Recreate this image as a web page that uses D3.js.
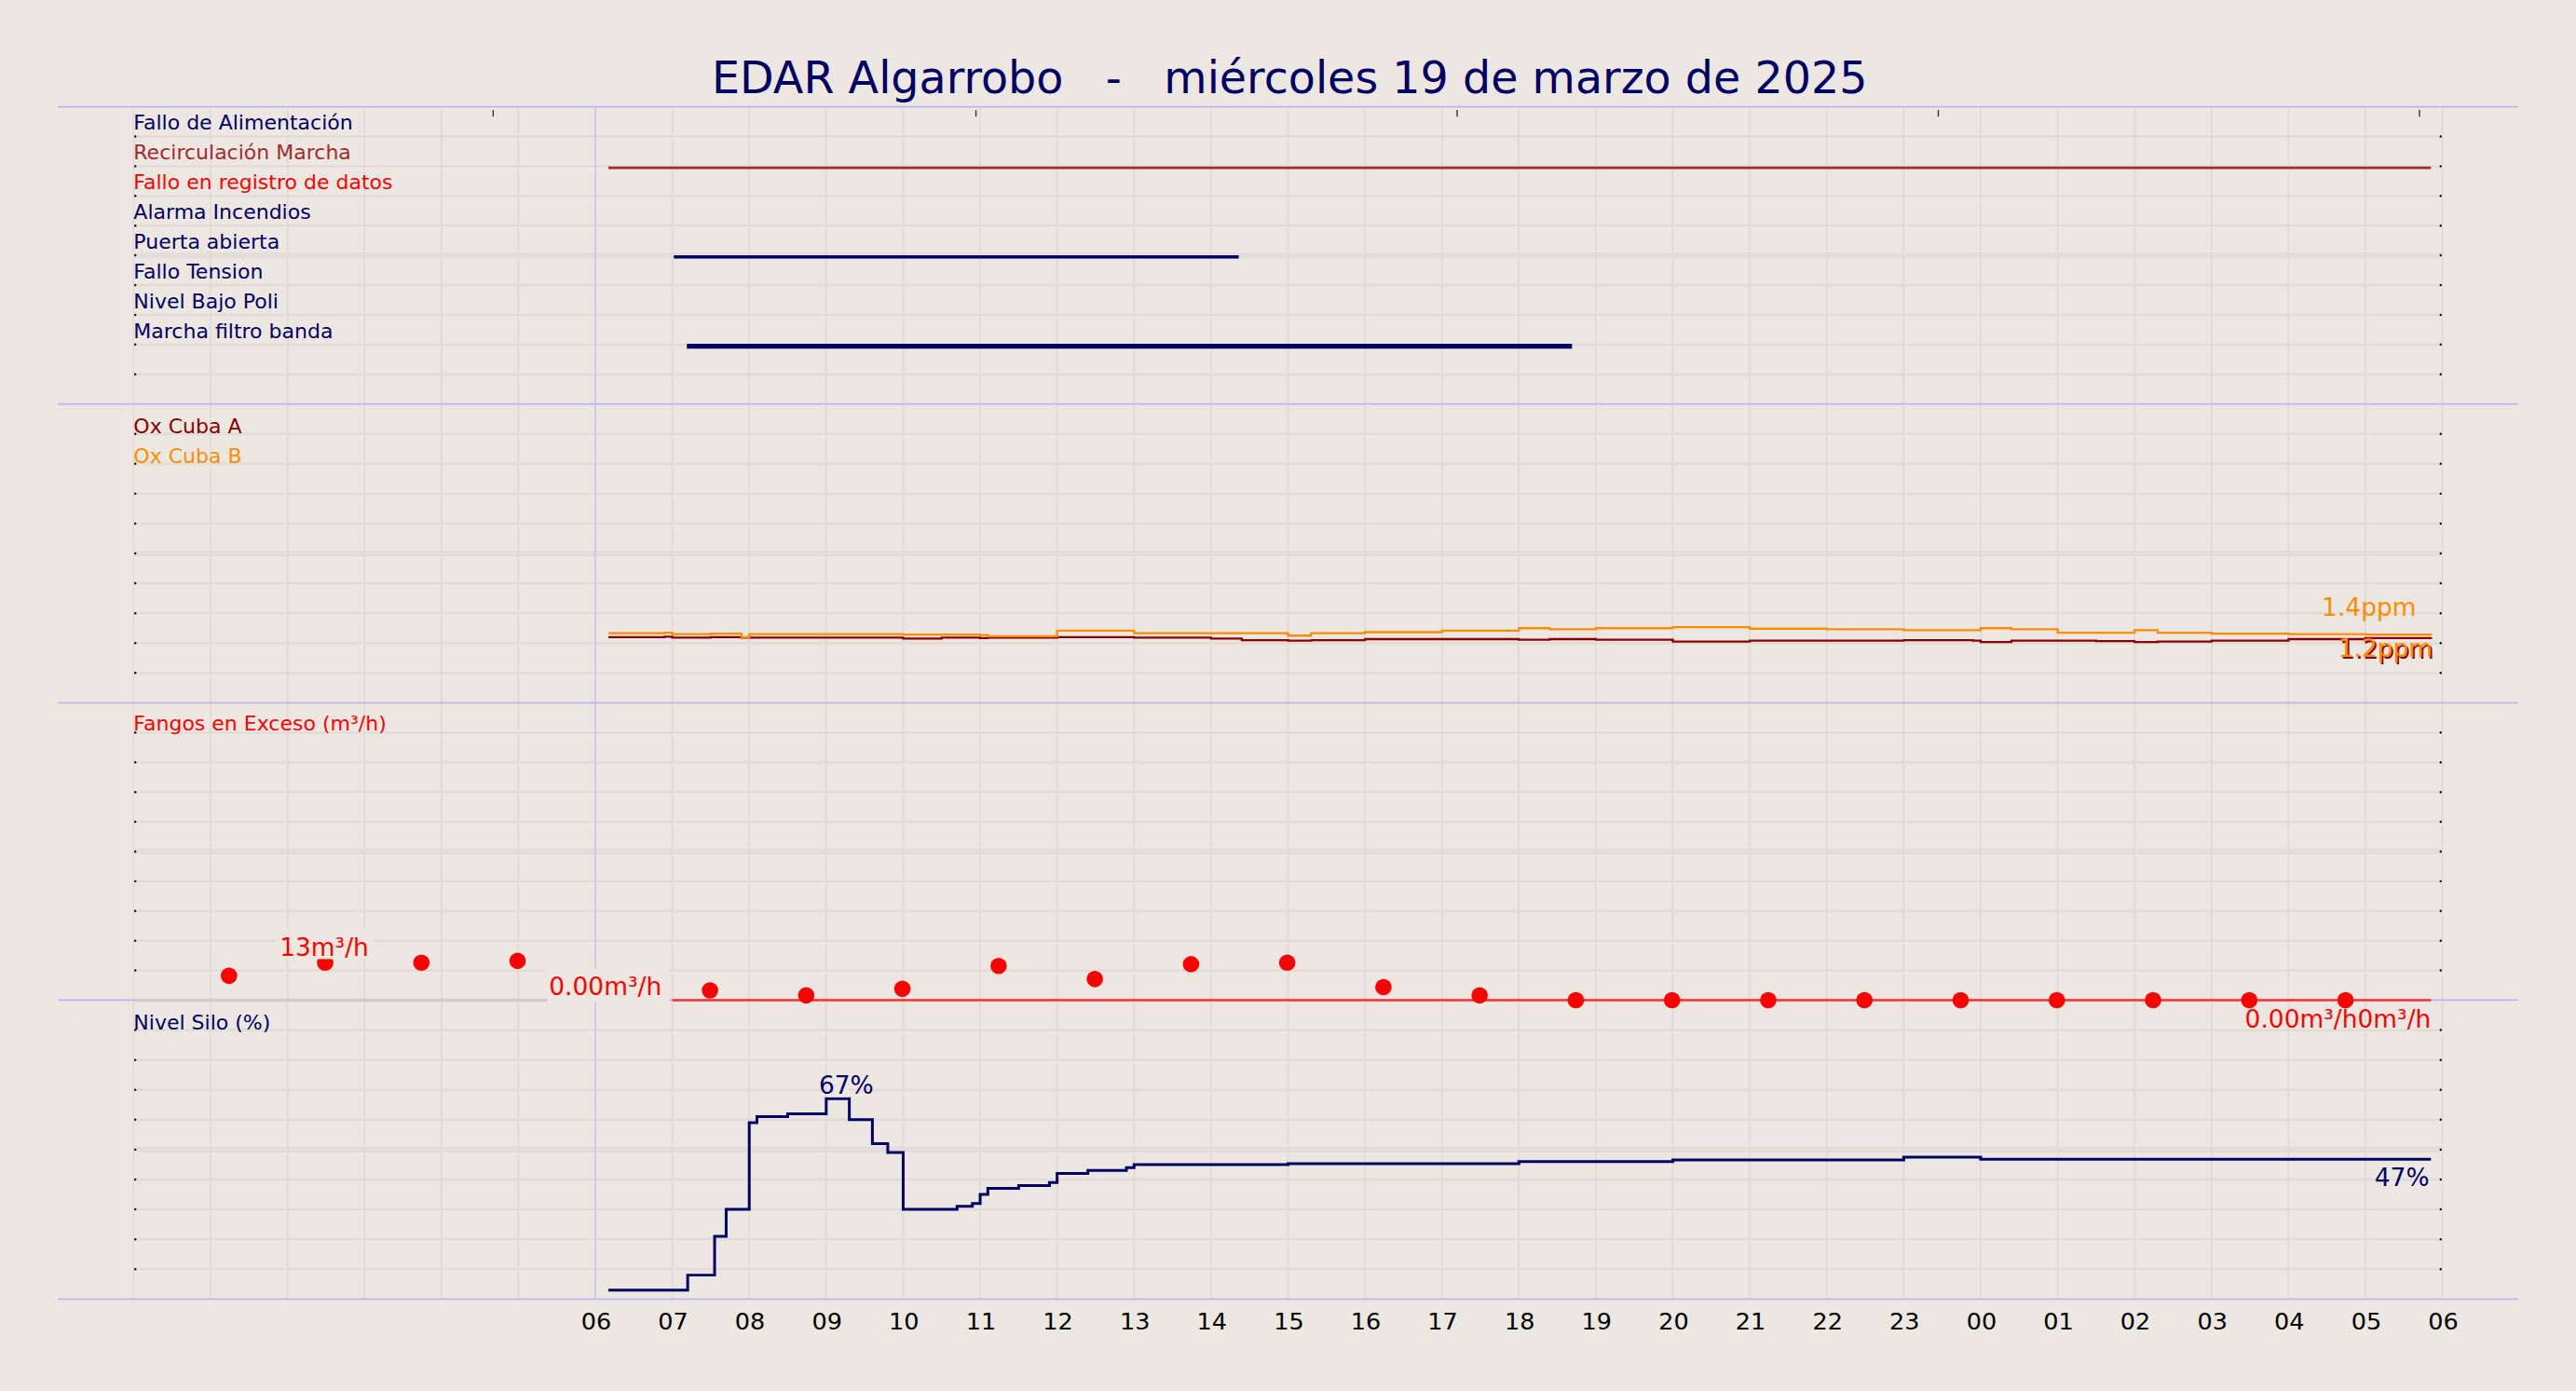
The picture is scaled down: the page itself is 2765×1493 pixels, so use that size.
<!DOCTYPE html>
<html><head><meta charset="utf-8">
<script src="https://cdn.jsdelivr.net/npm/d3@7"></script>
<style>
 body{margin:0;background:#ece7e1;}
 text{font-family:"DejaVu Sans",sans-serif;}
</style></head>
<body><svg id="c" width="2765" height="1493" viewBox="0 0 1568 847"></svg>
<script>
// hours since 19/03 00:00
var digitalNames = ["Fallo de Alimentación","Recirculación Marcha","Fallo en registro de datos","Alarma Incendios","Puerta abierta","Fallo Tension","Nivel Bajo Poli","Marcha filtro banda"];
var digitalColors = ["#000066","#a52a2a","#ff0000","#000066","#000066","#000066","#000066","#000066"];
var digitalOn = [[], [[6.17,29.85]], [], [], [[7.02,14.36]], [], [], [[7.19,18.69]]];
var digitalWidth = [2,1.5,2,2,2,2,2,3];

var oxTimes = [6.17,6.9,7.0,7.5,7.9,8.0,9.0,10.0,10.5,11.0,11.1,12.0,13.0,14.0,14.4,15.0,15.3,16.0,17.0,18.0,18.4,19.0,20.0,21.0,22.0,23.0,23.9,24.0,24.4,25.0,25.5,26.0,26.3,27.0,28.0,29.0,29.85];
var oxA = [1.32,1.33,1.31,1.32,1.31,1.31,1.31,1.29,1.31,1.30,1.31,1.32,1.31,1.29,1.26,1.25,1.26,1.28,1.28,1.27,1.28,1.27,1.23,1.25,1.25,1.26,1.25,1.22,1.25,1.25,1.24,1.22,1.23,1.25,1.28,1.30,1.32];
var oxB = [1.40,1.41,1.38,1.39,1.32,1.38,1.38,1.37,1.37,1.36,1.34,1.45,1.40,1.40,1.40,1.35,1.40,1.42,1.45,1.50,1.48,1.50,1.52,1.49,1.48,1.46,1.46,1.50,1.48,1.41,1.41,1.46,1.41,1.39,1.38,1.37,1.36];

var fangoTimes = [1.24,2.49,3.74,4.99,6.24,7.49,8.74,9.99,11.24,12.49,13.74,14.99,16.24,17.49,18.74,19.99,21.24,22.49,23.74,24.99,26.24,27.49,28.74];
var fangoVals = [8.2,12.6,12.6,13.2,8.8,3.3,1.6,3.8,11.5,7.1,12.1,12.6,4.4,1.6,0,0,0,0,0,0,0,0,0];

var siloTimes = [6.17,7.2,7.55,7.7,8.0,8.1,8.5,9.0,9.3,9.6,9.8,10.0,10.7,10.9,11.0,11.1,11.5,11.9,12.0,12.4,12.9,13.0,15.0,18.0,20.0,23.0,24.0,29.85];
var siloVals = [3,8,21,30,59,61,62,67,60,52,49,30,31,32,35,37,38,39,42,43,44,45,45.3,46,46.5,47.5,46.8,46.8];

var hourTicks = d3.range(6,31);

var svg = d3.select("#c");
var x = d3.scaleLinear().domain([0,30]).range([81,1487]);
var panels = [65,246,428,609,791];

svg.append("text").attr("x",785).attr("y",57).attr("text-anchor","middle")
  .attr("font-size",27).attr("fill","#000066").attr("xml:space","preserve")
  .text("EDAR Algarrobo   -   miércoles 19 de marzo de 2025");

// grids
var g = svg.append("g");
for (var p = 0; p < 4; p++) {
  var pTop = panels[p], pBot = panels[p+1];
  var yp = d3.scaleLinear().domain([0,10]).range([pBot,pTop]);
  d3.range(1,10).forEach(function (k) {
    g.append("line").attr("x1",81).attr("x2",1487).attr("y1",yp(k)).attr("y2",yp(k))
      .attr("stroke","#e2dcda").attr("stroke-width",k==5?3.5:1.6);
    g.append("circle").attr("cx",1486).attr("cy",yp(k)).attr("r",0.7).attr("fill","#000");
    g.append("circle").attr("cx",82).attr("cy",yp(k)).attr("r",0.7).attr("fill","#000");
  });
}
d3.range(0,31).forEach(function (h) {
  g.append("line").attr("x1",x(h)).attr("x2",x(h)).attr("y1",66).attr("y2",791)
    .attr("stroke","#e0dbd8").attr("stroke-width",1);
});
g.append("line").attr("x1",x(6)).attr("x2",x(6)).attr("y1",65).attr("y2",791).attr("stroke","#c4c4f4").attr("stroke-width",0.8);
panels.forEach(function (py) {
  g.append("line").attr("x1",35).attr("x2",1533).attr("y1",py).attr("y2",py).attr("stroke","#b8b8f8").attr("stroke-width",1);
});
[300,594,887,1180,1473].forEach(function (tx) {
  g.append("line").attr("x1",tx).attr("x2",tx).attr("y1",67).attr("y2",71).attr("stroke","#333").attr("stroke-width",0.8);
});

// x axis
var xa = svg.append("g").attr("transform","translate(0,791)")
  .call(d3.axisBottom(x).tickValues(hourTicks).tickSize(0).tickPadding(8)
    .tickFormat(function (h) { return d3.format("02")(h % 24); }));
xa.select(".domain").remove();
xa.selectAll("text").attr("font-size",14.5).attr("fill","#000").attr("font-family","DejaVu Sans");

// panel 1: digital
var y1 = d3.scaleLinear().domain([0,10]).range([65,246]);
digitalNames.forEach(function (n, i) {
  svg.append("text").attr("x",81).attr("y",y1(i+1)-4).attr("font-size",12.5).attr("fill",digitalColors[i]).text(n);
  digitalOn[i].forEach(function (seg) {
    svg.append("line").attr("x1",x(seg[0])).attr("x2",x(seg[1])).attr("y1",y1(i+1)+1).attr("y2",y1(i+1)+1)
      .attr("stroke",digitalColors[i]).attr("stroke-width",digitalWidth[i]);
  });
});

// panel 2: oxygen
var y2 = d3.scaleLinear().domain([0,6]).range([428,246]);
var stepLine = function (ys) { return d3.line().curve(d3.curveStepAfter).x(function (d) { return x(d[0]); }).y(function (d) { return ys(d[1]); }); };
svg.append("path").datum(d3.zip(oxTimes, oxA)).attr("d",stepLine(y2)).attr("fill","none").attr("stroke","#8b0000").attr("stroke-width",1.3);
svg.append("path").datum(d3.zip(oxTimes, oxB)).attr("d",stepLine(y2)).attr("fill","none").attr("stroke","#ff8c00").attr("stroke-width",1.3);
svg.append("text").attr("x",81).attr("y",264).attr("font-size",12.5).attr("fill","#8b0000").text("Ox Cuba A");
svg.append("text").attr("x",81).attr("y",282).attr("font-size",12.5).attr("fill","#ff8c00").text("Ox Cuba B");
svg.append("text").attr("x",1471).attr("y",375).attr("text-anchor","end").attr("font-size",15).attr("fill","#ff8c00").text("1.4ppm");
svg.append("text").attr("x",1482).attr("y",401).attr("text-anchor","end").attr("font-size",15).attr("fill","#8b0000").text("1.2ppm");
svg.append("text").attr("x",1481).attr("y",400).attr("text-anchor","end").attr("font-size",15).attr("fill","#ff8c00").text("1.2ppm");

// panel 3: fangos
var y3 = d3.scaleLinear().domain([0,100]).range([609,428]);
svg.append("line").attr("x1",81).attr("x2",333).attr("y1",y3(0)).attr("y2",y3(0)).attr("stroke","#d0ccc8").attr("stroke-width",2);
svg.append("line").attr("x1",x(7)).attr("x2",1480).attr("y1",y3(0)).attr("y2",y3(0)).attr("stroke","#ff3030").attr("stroke-width",1.5);
svg.selectAll(".dot").data(d3.zip(fangoTimes, fangoVals)).enter().append("circle")
  .attr("cx",function (d) { return x(d[0]); }).attr("cy",function (d) { return y3(d[1]); })
  .attr("r",function (d) { return d[0] > 6 && d[0] < 6.5 ? 2 : 5; }).attr("fill","#ff0000");
svg.append("text").attr("x",81).attr("y",445).attr("font-size",12.5).attr("fill","#ff0000").text("Fangos en Exceso (m³/h)");
svg.append("rect").attr("x",168).attr("y",566).attr("width",60).attr("height",18).attr("fill","#ece7e1");
svg.append("text").attr("x",170).attr("y",582).attr("font-size",15).attr("fill","#ff0000").text("13m³/h");
svg.append("rect").attr("x",333).attr("y",590).attr("width",74).attr("height",20).attr("fill","#ece7e1");
svg.append("text").attr("x",334).attr("y",606).attr("font-size",15).attr("fill","#ff0000").text("0.00m³/h");
svg.append("text").attr("x",1480).attr("y",626).attr("text-anchor","end").attr("font-size",15).attr("fill","#ff0000").text("0.00m³/h0m³/h");

// panel 4: silo
var y4 = d3.scaleLinear().domain([0,100]).range([791,609]);
svg.append("path").datum(d3.zip(siloTimes, siloVals)).attr("d",stepLine(y4)).attr("fill","none").attr("stroke","#000066").attr("stroke-width",1.7);
svg.append("rect").attr("x",503.5).attr("y",652).attr("width",13).attr("height",16).attr("fill","#ece7e1");
svg.append("text").attr("x",515).attr("y",666).attr("text-anchor","middle").attr("font-size",15).attr("fill","#000066").text("67%");
svg.append("text").attr("x",81).attr("y",627).attr("font-size",12.5).attr("fill","#000066").text("Nivel Silo (%)");
svg.append("text").attr("x",1479).attr("y",722).attr("text-anchor","end").attr("font-size",15).attr("fill","#000066").text("47%");
</script></body></html>
